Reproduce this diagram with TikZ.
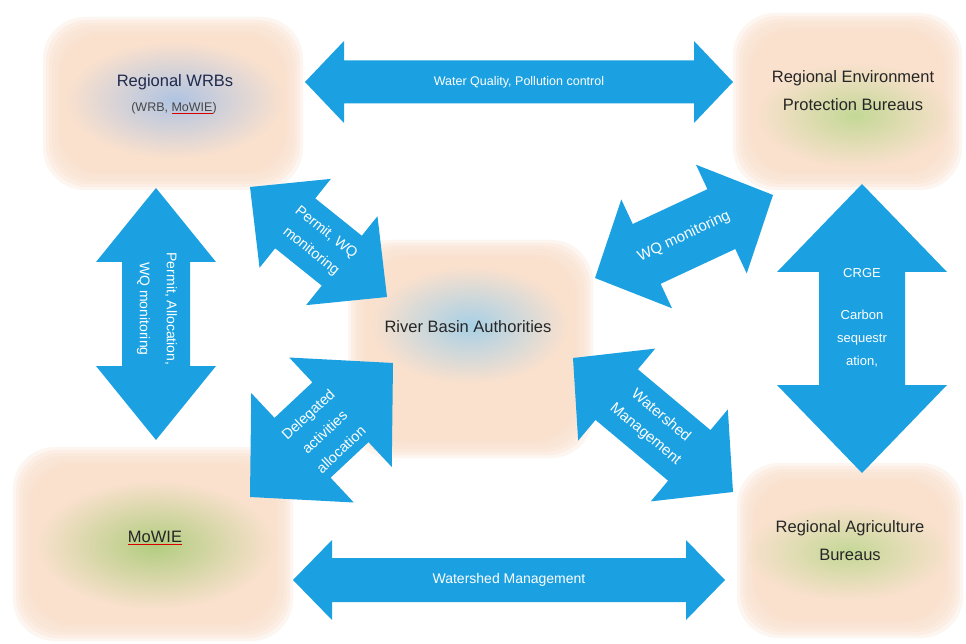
\documentclass[tikz,border=0pt]{standalone}
\usepackage{fontspec}
\setmainfont{Liberation Sans}
\usetikzlibrary{calc,fadings}
\definecolor{arrowblue}{RGB}{27,161,226}
\definecolor{peach}{RGB}{250,224,204}
\definecolor{glowblueA}{RGB}{176,196,226}
\definecolor{glowblueB}{RGB}{168,208,230}
\definecolor{glowgreenA}{RGB}{178,205,128}
\definecolor{glowgreenB}{RGB}{196,216,150}
\definecolor{navytext}{RGB}{30,42,78}
\definecolor{darktext}{RGB}{38,38,38}
\tikzfading[name=glowfade, inner color=transparent!0, outer color=transparent!100]
\newcommand{\redul}[1]{\setbox0\hbox{#1}\rlap{\color{red!85!black}\rule[-3pt]{\wd0}{1pt}}\box0}
\newcommand{\softbox}[4]{\foreach \k in {0,...,6}{\fill[peach,opacity=0.3,rounded corners=42pt] (#1+\k*3,#2+\k*3) rectangle (#3-\k*3,#4-\k*3);}}
\newcommand{\glow}[5]{\fill[#1,path fading=glowfade] (#2,#3) ellipse [x radius=#4,y radius=#5];}
\newcommand{\blockarrow}[5]{%
  \fill[arrowblue] (#1)
  -- ($(#1)!#5!(#2)!#4!90:(#2)$)
  -- ($(#1)!#5!(#2)!#3!90:(#2)$)
  -- ($(#2)!#5!(#1)!#3!-90:(#1)$)
  -- ($(#2)!#5!(#1)!#4!-90:(#1)$)
  -- (#2)
  -- ($(#2)!#5!(#1)!#4!90:(#1)$)
  -- ($(#2)!#5!(#1)!#3!90:(#1)$)
  -- ($(#1)!#5!(#2)!#3!-90:(#2)$)
  -- ($(#1)!#5!(#2)!#4!-90:(#2)$)
  -- cycle;}
\tikzset{
  boxtext/.style={font=\fontsize{16.5}{28}\selectfont, text=darktext, align=center, inner sep=1pt},
  arrowlabel/.style={font=\fontsize{14}{22}\selectfont, text=white, align=center, inner sep=1pt},
}
\begin{document}
\begin{tikzpicture}[x=1pt,y=-1pt]
\useasboundingbox (0,0) rectangle (966,644);
\fill[white] (0,0) rectangle (966,644);
% soft boxes
\softbox{43}{17}{303}{190}
\softbox{733}{13}{962}{190}
\softbox{348}{240}{593}{458}
\softbox{13}{447}{293}{641}
\softbox{737}{463}{963}{638}
% glows
\glow{glowblueA}{175}{100}{108}{58}
\glow{glowgreenB}{855}{115}{98}{52}
\glow{glowgreenA}{155}{545}{118}{64}
\glow{glowgreenB}{848}{552}{102}{48}
\glow{glowblueB}{470}{325}{98}{58}
% box texts
\node[boxtext, text=navytext] (wrbs) at (175,82) {Regional WRBs};
\node[font=\fontsize{12.5}{15}\selectfont, text=darktext!85, inner sep=1pt] (wrbsub) at (174,108) {(WRB, \redul{MoWIE})};
\node[boxtext] (env) at (853,91) {Regional Environment\\Protection Bureaus};
\node[boxtext] (rba) at (468,327) {River Basin Authorities};
\node[boxtext] (mowie) at (155,538) {\redul{MoWIE}};
\node[boxtext] (agri) at (850,541) {Regional Agriculture\\Bureaus};
% arrow tips
\coordinate (tA) at (305,82);  \coordinate (tB) at (733,82);
\coordinate (bA) at (293,580); \coordinate (bB) at (725,580);
\coordinate (lA) at (156,188); \coordinate (lB) at (156,440);
\coordinate (rA) at (862,184); \coordinate (rB) at (862,473);
\coordinate (d1A) at (250,187); \coordinate (d1B) at (387,297);
\coordinate (d2A) at (250,497); \coordinate (d2B) at (393,363);
\coordinate (d3A) at (595,278); \coordinate (d3B) at (773,195);
\coordinate (d4A) at (573,358); \coordinate (d4B) at (733,492);
% block arrows
\blockarrow{tA}{tB}{21.5pt}{41pt}{39pt}
\blockarrow{bA}{bB}{22pt}{40pt}{39pt}
\blockarrow{lA}{lB}{34pt}{60pt}{74pt}
\blockarrow{rA}{rB}{43pt}{85pt}{88pt}
\blockarrow{d1A}{d1B}{32pt}{57pt}{58pt}
\blockarrow{d2A}{d2B}{41pt}{75pt}{72pt}
\blockarrow{d3A}{d3B}{33pt}{60pt}{57pt}
\blockarrow{d4A}{d4B}{33pt}{60pt}{57pt}
% arrow labels
\node[arrowlabel, font=\fontsize{12.5}{15}\selectfont] (lt) at ($(tA)!0.5!(tB)$) {Water Quality, Pollution control};
\node[arrowlabel, font=\fontsize{14}{17}\selectfont] (lb) at ($(bA)!0.5!(bB)$) {Watershed Management};
\node[arrowlabel, rotate=-90, font=\fontsize{14}{27}\selectfont] (ll) at (157,309) {Permit, Allocation,\\WQ monitoring};
\node[arrowlabel, font=\fontsize{13}{23}\selectfont] (lr) at (862,318) {CRGE\\[19pt]Carbon\\sequestr\\ation,};
\node[arrowlabel, rotate=-38.8, font=\fontsize{14.5}{24}\selectfont] (l1) at ($(d1A)!0.5!(d1B)$) {Permit, WQ\\monitoring};
\node[arrowlabel, rotate=43, font=\fontsize{14.5}{24}\selectfont] (l2) at ($(d2A)!0.5!(d2B)+(3,2)$) {Delegated\\activities\\allocation};
\node[arrowlabel, rotate=25, font=\fontsize{15}{20}\selectfont] (l3) at ($(d3A)!0.5!(d3B)$) {WQ monitoring};
\node[arrowlabel, rotate=-40, font=\fontsize{15}{24}\selectfont] (l4) at ($(d4A)!0.5!(d4B)$) {Watershed\\Management};
\end{tikzpicture}
\end{document}
